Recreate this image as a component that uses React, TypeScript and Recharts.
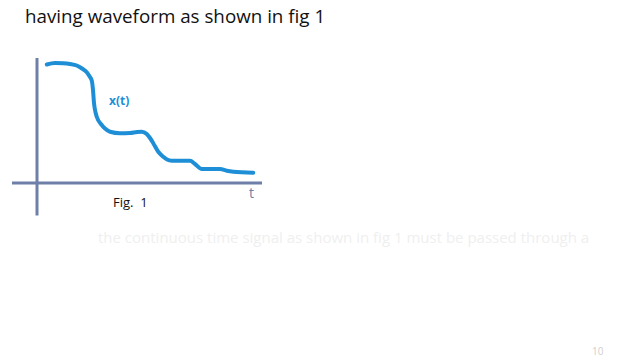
import React from "react";
import { LineChart, Line, XAxis, YAxis, ReferenceLine } from "recharts";

const timeValues = [0.39, 0.72, 1.05, 1.32, 1.59, 1.8, 1.99, 2.1, 2.19, 2.24, 2.28, 2.32, 2.39, 2.59, 2.72, 2.92, 3.32, 3.72, 4.0, 4.19, 4.39, 4.52, 4.65, 4.85, 5.05, 5.2, 5.39, 6.12, 6.32, 6.59, 7.32, 7.59, 7.85, 8.65];
const signalValues = [4.74, 4.8, 4.79, 4.76, 4.7, 4.58, 4.43, 4.27, 4.1, 3.72, 3.2, 2.92, 2.65, 2.32, 2.18, 2.05, 1.99, 2.0, 2.04, 2.05, 1.96, 1.8, 1.59, 1.25, 1.05, 0.94, 0.89, 0.89, 0.76, 0.56, 0.56, 0.49, 0.45, 0.41];
const tDomain = [-1, 9];
const xDomain = [-1.3, 5];

const data = timeValues.map((t, i) => ({ t, x: signalValues[i] }));

const AXIS = "#6e7fa8";
const CURVE = "#1e8fd6";

export default function App() {
  return (
    <div style={{ position: "absolute", left: 0, top: 0, width: 640, height: 360, background: "#fff", overflow: "hidden", fontFamily: "'Open Sans', sans-serif" }}>
      <div style={{ position: "absolute", left: 25, top: 3, fontSize: 18.8, color: "#111", whiteSpace: "nowrap" }}>
        having waveform as shown in fig 1
      </div>
      <LineChart width={640} height={360} data={data} margin={{ top: 58, right: 378, bottom: 144.5, left: 12 }} style={{ position: "absolute", left: 0, top: 0 }}>
        <XAxis dataKey="t" type="number" domain={tDomain} allowDataOverflow hide />
        <YAxis type="number" domain={xDomain} allowDataOverflow hide />
        <ReferenceLine y={0} stroke={AXIS} strokeWidth={3} />
        <ReferenceLine x={0} stroke={AXIS} strokeWidth={3} />
        <Line dataKey="x" type="monotone" stroke={CURVE} strokeWidth={4} dot={false} isAnimationActive={false} strokeLinecap="round" />
      </LineChart>
      <div style={{ position: "absolute", left: 109, top: 92, fontSize: 12, fontWeight: 700, color: CURVE }}>x(t)</div>
      <div style={{ position: "absolute", left: 249, top: 183, fontSize: 14, color: AXIS }}>t</div>
      <div style={{ position: "absolute", left: 113, top: 193, fontSize: 13, color: "#111", whiteSpace: "pre" }}>Fig.  1</div>
      <div style={{ position: "absolute", left: 98, top: 227, fontSize: 15, color: "#efefef", whiteSpace: "nowrap" }}>
        the continuous time signal as shown in fig 1 must be passed through a
      </div>
      <div style={{ position: "absolute", left: 592, top: 344, fontSize: 10, color: "#cfcfcf" }}>10</div>
    </div>
  );
}
